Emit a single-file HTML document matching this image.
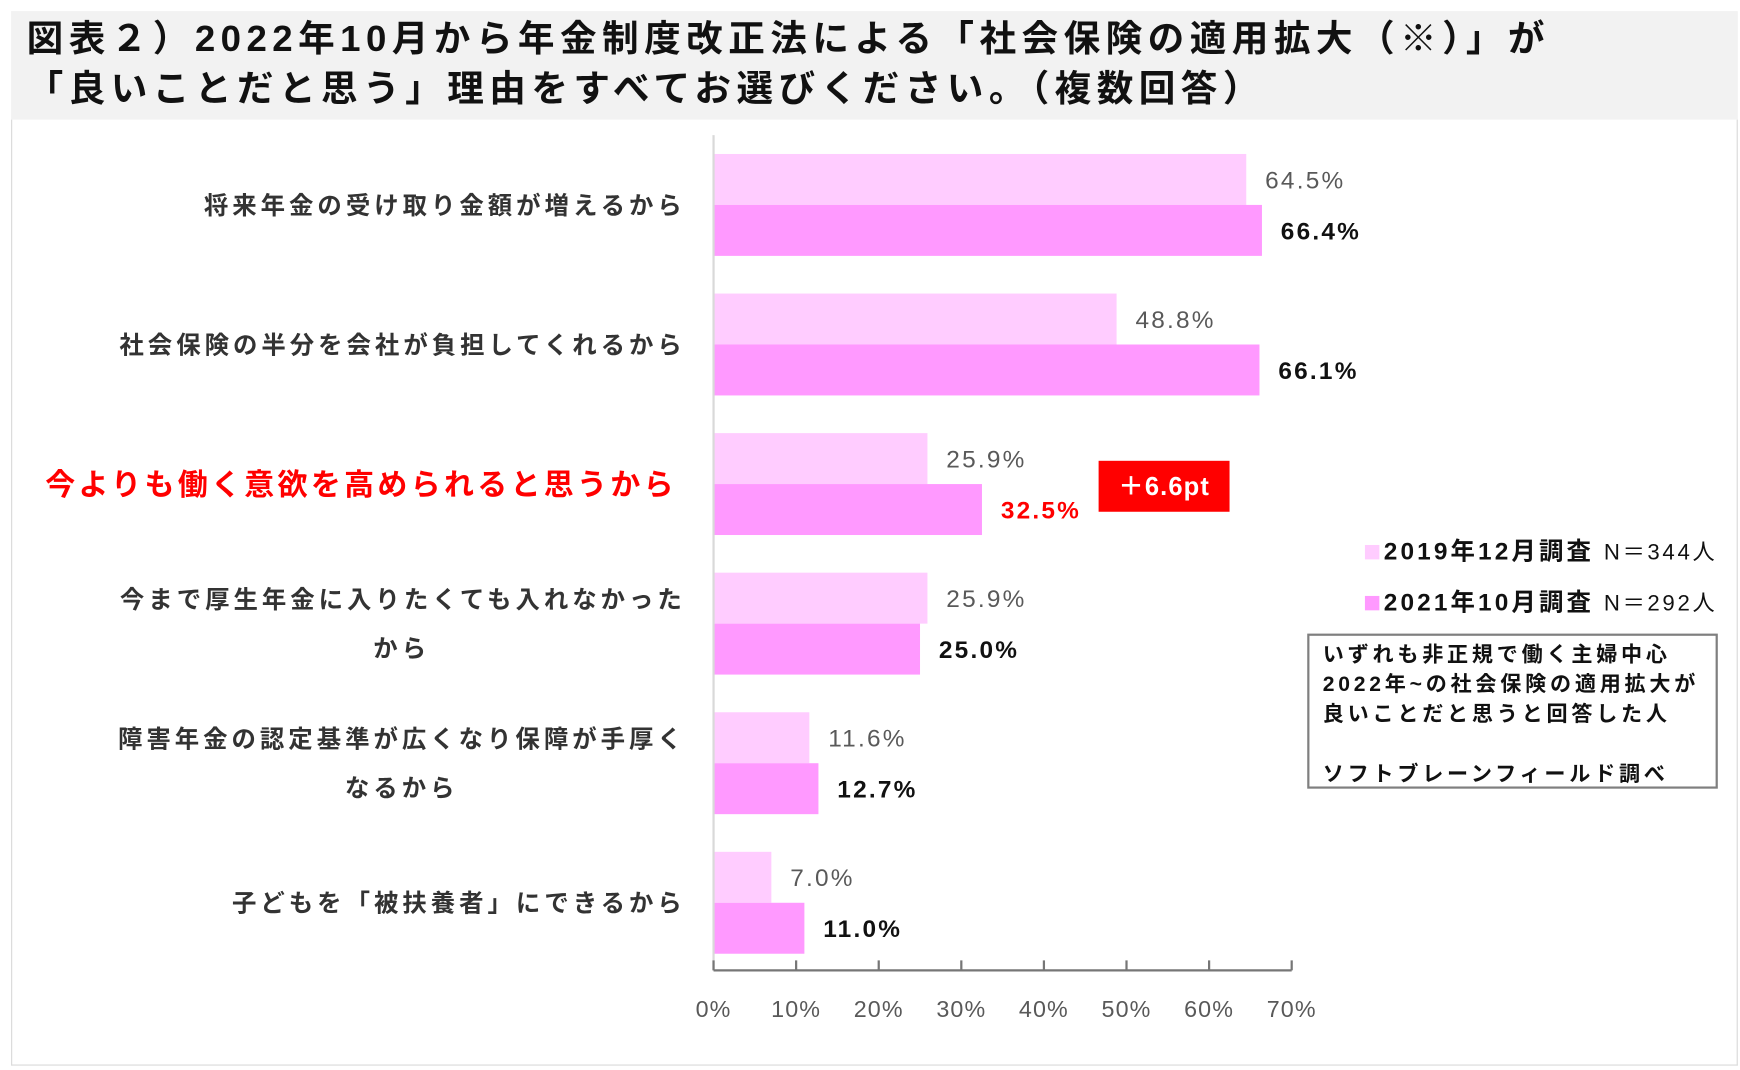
<!DOCTYPE html>
<html><head><meta charset="utf-8">
<style>
html,body{margin:0;padding:0;background:#fff;}
body{width:1740px;height:1070px;overflow:hidden;position:relative;}
#wrap{position:absolute;left:0;top:0;width:1568px;height:966px;transform:scale(1.1097,1.1077);transform-origin:0 0;font-family:"Liberation Sans","Noto Sans CJK JP",sans-serif;}
.abs{position:absolute;white-space:nowrap;}
</style></head><body>
<div id="wrap">
  <div class="abs" style="left:10px;top:10px;width:1556px;height:98px;background:#f2f2f2;"></div>
  <div class="abs" style="left:24px;top:12px;font-size:33px;font-weight:bold;line-height:45px;color:#111;letter-spacing:4.9px;">図表２）2022年10月から年金制度改正法による「社会保険の適用拡大（※）」が<br>「良いことだと思う」理由をすべてお選びください。（複数回答）</div>
  <div class="abs" style="left:10px;top:108px;width:1554px;height:853px;border:1px solid #d9d9d9;border-top:none;"></div>
  <svg id="chart" class="abs" style="left:0;top:0;" width="1568" height="966"></svg>
  <div class="abs" style="left:990px;top:416px;width:118px;height:46px;background:#ff0000;color:#fff;font-weight:bold;font-size:23px;line-height:46px;text-align:center;letter-spacing:1px;">＋6.6pt</div>
  <div class="abs" style="left:1230px;top:480px;font-size:22px;font-weight:bold;color:#111;letter-spacing:2.8px;"><span style="display:inline-block;width:13px;height:13px;background:#ffccff;margin-right:4px;"></span>2019年12月調査 <span style="font-weight:normal;font-size:20px;letter-spacing:2.4px;">N＝344人</span></div>
  <div class="abs" style="left:1230px;top:526px;font-size:22px;font-weight:bold;color:#111;letter-spacing:2.8px;"><span style="display:inline-block;width:13px;height:13px;background:#ff99ff;margin-right:4px;"></span>2021年10月調査 <span style="font-weight:normal;font-size:20px;letter-spacing:2.4px;">N＝292人</span></div>
  <div class="abs" style="left:1178px;top:572px;width:354px;height:132px;border:2px solid #7f7f7f;padding:4px 0 0 12px;font-size:19px;line-height:27px;color:#111;font-weight:bold;letter-spacing:3.4px;">いずれも非正規で働く主婦中心<br>2022年~の社会保険の適用拡大が<br>良いことだと思うと回答した人<br><br>ソフトブレーンフィールド調べ</div>
</div>
<script>
const categories=["将来年金の受け取り金額が増えるから","社会保険の半分を会社が負担してくれるから","今よりも働く意欲を高められると思うから","今まで厚生年金に入りたくても入れなかったから","障害年金の認定基準が広くなり保障が手厚くなるから","子どもを「被扶養者」にできるから"];
const catLines=[["将来年金の受け取り金額が増えるから"],["社会保険の半分を会社が負担してくれるから"],["今よりも働く意欲を高められると思うから"],["今まで厚生年金に入りたくても入れなかった","から"],["障害年金の認定基準が広くなり保障が手厚く","なるから"],["子どもを「被扶養者」にできるから"]];
const series2019=[64.5,48.8,25.9,25.9,11.6,7.0];
const series2021=[66.4,66.1,32.5,25.0,12.7,11.0];
const ticks=[0,10,20,30,40,50,60,70];
const highlight=2;

const svg=document.getElementById('chart');
const NS='http://www.w3.org/2000/svg';
const x0=643,x1=1164,yTop=122,yAxis=876,groupTop=139,groupStep=126,barH=46;
const xs=v=>x0+(v/70)*(x1-x0);
function mk(tag,attrs,txt){const e=document.createElementNS(NS,tag);for(const k in attrs)e.setAttribute(k,attrs[k]);if(txt!==undefined)e.textContent=txt;svg.appendChild(e);return e;}
const font='"Liberation Sans","Noto Sans CJK JP",sans-serif';

categories.forEach((c,i)=>{
  const gy=groupTop+i*groupStep;
  const a=mk('rect',{x:x0,y:gy,width:xs(series2019[i])-x0,height:barH,fill:'#ffccff'});
  
  
  const b=mk('rect',{x:x0,y:gy+barH,width:xs(series2021[i])-x0,height:barH,fill:'#ff99ff'});
  
  
  const la=mk('text',{x:xs(series2019[i])+17,y:gy+barH/2+8,'font-size':22,fill:'#595959','font-family':font,'letter-spacing':2},series2019[i].toFixed(1)+'%');
  
  
  const lb=mk('text',{x:xs(series2021[i])+17,y:gy+barH*1.5+8,'font-size':22,'font-weight':'bold',fill:i===highlight?'#ff0000':'#111','font-family':font,'letter-spacing':2},series2021[i].toFixed(1)+'%');
  
  
  const lines=catLines[i];
  const hl=i===highlight;
  lines.forEach((ln,j)=>{
    let y;
    if(lines.length===1) y=gy+barH+(hl?10:8);
    else y=gy+barH-14+j*44;
    const mid=lines.length>1&&j===1;
    const t=mk('text',{x:mid?362:(hl?610:618),y:y,'text-anchor':mid?'middle':'end','font-size':hl?27:22,'font-weight':'bold',fill:hl?'#ff0000':'#333','font-family':font,'letter-spacing':hl?3:3.6},ln);
    
    
  });
});
const ya=mk('line',{x1:x0,y1:yTop,x2:x0,y2:yAxis,stroke:'#d9d9d9','stroke-width':2});


const xa=mk('line',{x1:x0,y1:yAxis,x2:x1,y2:yAxis,stroke:'#767676','stroke-width':2});


ticks.forEach(t=>{
  const tk=mk('line',{x1:xs(t),y1:yAxis-9,x2:xs(t),y2:yAxis,stroke:'#767676','stroke-width':2});
  
  
  const tl=mk('text',{x:xs(t),y:918,'text-anchor':'middle','font-size':21,fill:'#595959','font-family':font,'letter-spacing':1},t+'%');
  
  
});
</script>
</body></html>
